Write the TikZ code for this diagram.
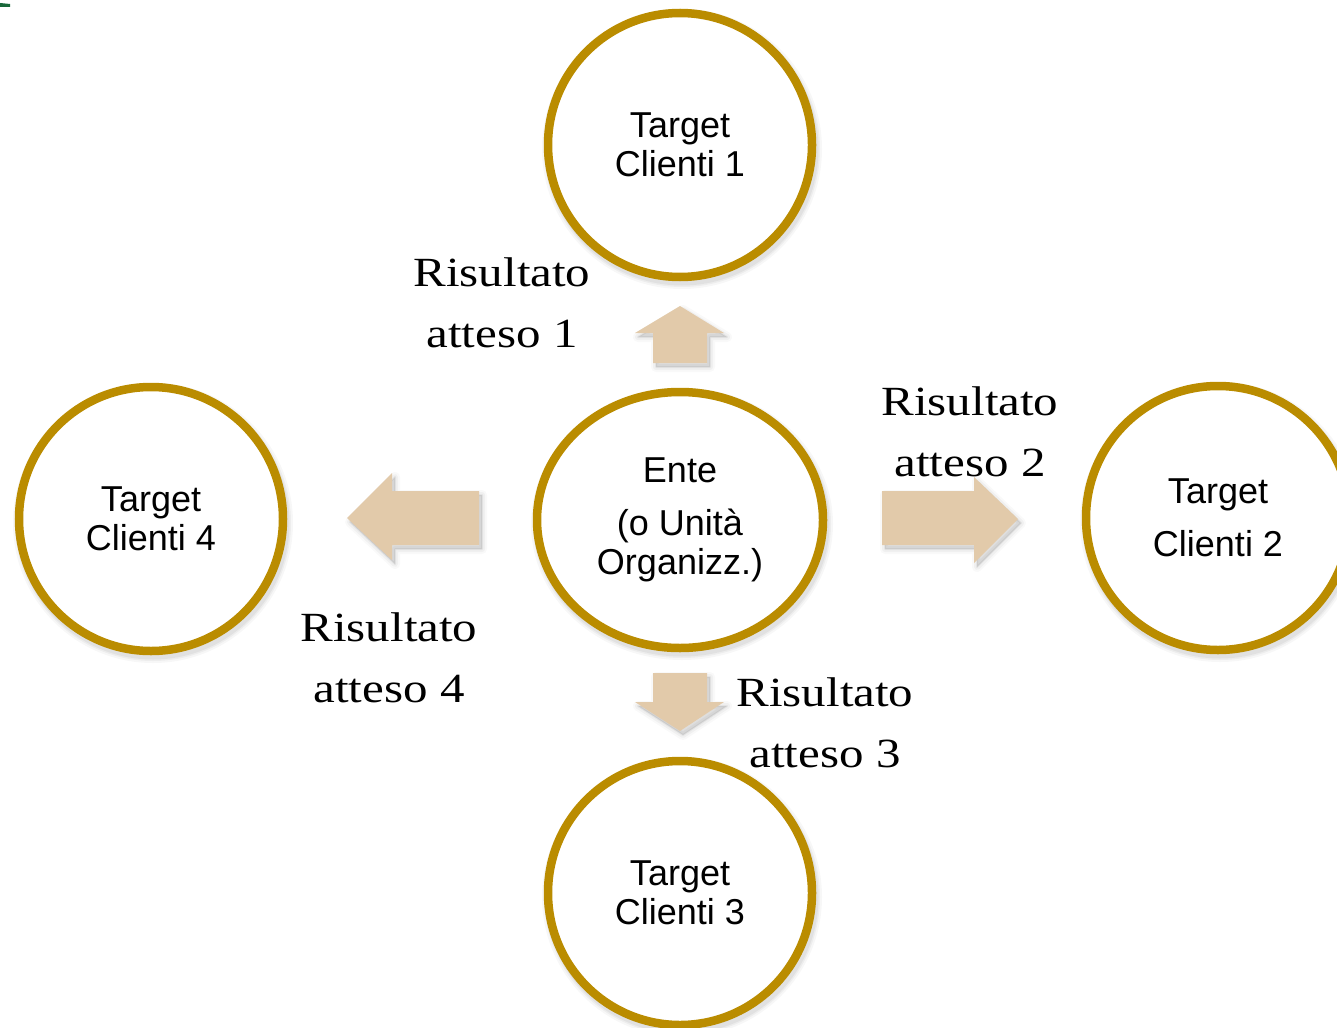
\documentclass[tikz,border=0pt]{standalone}
\usepackage{fontspec}
\setmainfont{Liberation Serif}
\newfontfamily\sansface{Liberation Sans}
\newfontfamily\labelface[FakeStretch=1.18]{Liberation Serif}
\usetikzlibrary{shapes.geometric,backgrounds,calc}

\definecolor{ringgold}{RGB}{186,140,0}
\definecolor{arrowfill}{RGB}{226,202,170}
\definecolor{markgreen}{RGB}{24,104,58}

% block arrow with a soft drop shadow; #1 is the closed outline
\newcommand\blockarrow[1]{%
  \foreach \w/\o in {10/0.025,6/0.035,2/0.05}
    \filldraw[black, opacity=\o, line width=\w pt, line join=round, shift={(3,4)}] #1;
  \fill[arrowfill] #1;
}

\begin{document}
\begin{tikzpicture}[x=1pt,y=-1pt,
  target/.style={circle, draw=ringgold, line width=8.5pt, fill=white,
    minimum size=264pt, inner sep=0pt, align=center,
    font=\sansface\fontsize{36}{39}\selectfont},
  ente/.style={ellipse, draw=ringgold, line width=8.5pt, fill=white,
    minimum width=286pt, minimum height=256pt, inner sep=0pt, align=center,
    font=\sansface\fontsize{36}{39}\selectfont},
  result/.style={align=center, inner sep=0pt,
    font=\labelface\fontsize{41.5}{61}\selectfont},
  ringshadow/.style={draw=black, line join=round}
]
\useasboundingbox (0,0) rectangle (1337,1027);

% corner mark
\fill[markgreen] (0,3) -- (10,4) -- (10,7) -- (0,7) -- cycle;

% circles
\node[target] (t1) at (680,145) {Target\\Clienti 1};
\node[ente]   (ente) at (680,520) {Ente\\[14pt](o Unità\\Organizz.)};
\node[target] (t2) at (1218,518) {Target\\[14pt]Clienti 2};
\node[target] (t4) at (151,519) {Target\\Clienti 4};
\node[target] (t3) at (680,893) {Target\\Clienti 3};

% soft shadows of the rings
\begin{scope}[on background layer]
  \foreach \n in {t1,t2,t3,t4}
    \foreach \w/\o in {16/0.03,12/0.04,9/0.05}
      \draw[ringshadow, line width=\w pt, opacity=\o] ($(\n)+(2,4)$) circle (132);
  \foreach \w/\o in {16/0.03,12/0.04,9/0.05}
    \draw[ringshadow, line width=\w pt, opacity=\o] ($(ente)+(2,4)$) ellipse [x radius=143, y radius=128];
\end{scope}

% block arrows
\blockarrow{(653,363) -- (653,333) -- (635,333) -- (680,306) -- (724,333) -- (707,333) -- (707,363) -- cycle}
\blockarrow{(653,673) -- (707,673) -- (707,702) -- (724,702) -- (680,731) -- (635,702) -- (653,702) -- cycle}
\blockarrow{(882,491) -- (974,491) -- (974,477) -- (1018,519) -- (974,563) -- (974,545) -- (882,545) -- cycle}
\blockarrow{(479,491) -- (392,491) -- (392,473) -- (347,518) -- (392,560) -- (392,545) -- (479,545) -- cycle}

% result labels
\node[result] (r1) at (502,303) {Risultato\\atteso 1};
\node[result] (r2) at (970,432) {Risultato\\atteso 2};
\node[result] (r4) at (389,658) {Risultato\\atteso 4};
\node[result] (r3) at (825,723) {Risultato\\atteso 3};
\end{tikzpicture}
\end{document}
